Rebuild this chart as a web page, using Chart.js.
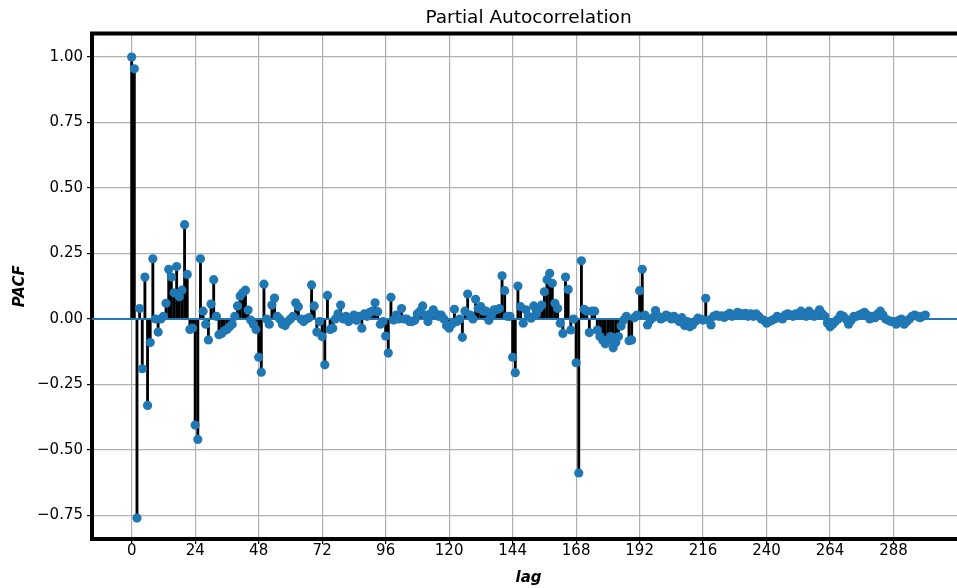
<!DOCTYPE html>
<html>
<head>
<meta charset="utf-8">
<title>Partial Autocorrelation</title>
<script src="https://cdn.jsdelivr.net/npm/chart.js@4"></script>
<style>
  html, body { margin: 0; padding: 0; background: #fff; }
  #wrap { width: 957px; height: 588px; overflow: hidden; }
</style>
</head>
<body>
<div id="wrap"><canvas id="pacfChart" width="975" height="588"></canvas></div>
<script>
// PACF values, one per lag (12 lags per row)
const pacfLags0to99 = [
  1.0, 0.955, -0.76, 0.04, -0.19, 0.16, -0.33, -0.09, 0.23, 0.0, -0.05, 0.0,
  0.01, 0.06, 0.19, 0.16, 0.10, 0.20, 0.085, 0.11, 0.36, 0.17, -0.04, -0.035,
  -0.405, -0.46, 0.23, 0.03, -0.02, -0.08, 0.057, 0.15, 0.01, -0.06, -0.055, -0.045,
  -0.04, -0.03, -0.02, 0.01, 0.05, 0.088, 0.10, 0.11, 0.034, -0.004, -0.02, -0.04,
  -0.146, -0.203, 0.133, 0.0, -0.02, 0.053, 0.08, 0.01, 0.0, -0.02, -0.025, -0.01,
  0.0, 0.01, 0.062, 0.047, 0.0, -0.01, 0.0, 0.005, 0.13, 0.05, -0.05, -0.01,
  -0.067, -0.175, 0.09, -0.04, -0.035, 0.0, 0.02, 0.053, 0.0, 0.01, -0.01, 0.0,
  0.015, -0.005, 0.01, -0.035, 0.02, 0.01, 0.025, 0.03, 0.062, 0.028, -0.02, -0.01,
  -0.065, -0.13, 0.083, -0.004
];
const pacfLags100to199 = [
  0.015, 0.0, 0.04, 0.0, 0.0, -0.01, -0.01, -0.005,
  0.02, 0.03, 0.05, 0.015, -0.01, 0.02, 0.035, 0.02, 0.01, 0.015, 0.0, -0.025,
  -0.035, -0.02, 0.037, -0.01, 0.0, -0.07, 0.03, 0.095, 0.015, 0.0, 0.075, 0.04,
  0.047, 0.03, 0.03, -0.005, 0.015, 0.035, 0.035, 0.04, 0.165, 0.108, 0.01, 0.01,
  -0.146, -0.205, 0.126, 0.047, -0.016, 0.035, 0.01, 0.003, 0.05, 0.02, 0.04, 0.053,
  0.104, 0.15, 0.174, 0.136, 0.06, 0.04, -0.016, -0.055, 0.16, 0.113, -0.042, 0.0,
  -0.167, -0.588, 0.222, 0.037, 0.03, -0.052, 0.03, 0.03, -0.042, -0.067, -0.08, -0.095,
  -0.08, -0.067, -0.11, -0.09, -0.067, -0.027, -0.004, 0.01, -0.083, -0.08, 0.005, 0.015,
  0.108, 0.19, 0.015, -0.023, -0.004, 0.005, 0.032, 0.01
];
const pacfLags200to300 = [
  0.0, 0.005, 0.015, 0.01,
  0.0, 0.01, 0.0, -0.01, 0.005, -0.025, -0.01, -0.03, -0.023, -0.01, 0.003, 0.0,
  -0.004, 0.079, -0.004, -0.023, 0.01, 0.015, 0.01, 0.012, 0.006, 0.015, 0.022, 0.01,
  0.015, 0.025, 0.022, 0.015, 0.022, 0.01, 0.02, 0.01, 0.02, 0.01, 0.0, -0.005,
  -0.016, -0.01, -0.005, 0.0, 0.01, 0.005, 0.0, 0.015, 0.02, 0.015, 0.01, 0.02,
  0.015, 0.03, 0.02, 0.01, 0.03, 0.02, 0.01, 0.02, 0.035, 0.02, 0.01, -0.015,
  -0.03, -0.02, -0.01, 0.0, 0.015, 0.01, 0.0, -0.02, -0.005, 0.01, 0.01, 0.015,
  0.02, 0.025, 0.015, 0.0, 0.01, 0.005, 0.02, 0.03, 0.015, 0.0, -0.005, -0.01,
  -0.01, -0.02, -0.005, 0.0, -0.02, -0.01, 0.0, 0.01, 0.015, 0.01, 0.005, 0.01,
  0.015
];

const xTickValues = [0, 24, 48, 72, 96, 120, 144, 168, 192, 216, 240, 264, 288];
const yTickValues = [-0.75, -0.5, -0.25, 0.0, 0.25, 0.5, 0.75, 1.0];

const X_MIN = -15, X_MAX = 315;
const Y_MIN = -0.84, Y_MAX = 1.09;
const BLUE = '#1f77b4';
const FONT = "'DejaVu Sans', sans-serif";

const pacf = pacfLags0to99.concat(pacfLags100to199, pacfLags200to300);
const points = pacf.map((v, lag) => ({ x: lag, y: v }));

// top spine (bottom/left come from the axis borders, right one is off-canvas)
const topSpine = {
  id: 'topSpine',
  afterDatasetsDraw(chart) {
    const { ctx, chartArea } = chart;
    ctx.save();
    ctx.strokeStyle = '#000';
    ctx.lineWidth = 4;
    ctx.beginPath();
    ctx.moveTo(chartArea.left - 2, chartArea.top);
    ctx.lineTo(chartArea.right + 2, chartArea.top);
    ctx.stroke();
    ctx.restore();
  }
};

const ctx = document.getElementById('pacfChart').getContext('2d');
new Chart(ctx, {
  type: 'bar',
  data: {
    datasets: [
      {
        type: 'scatter',
        data: points,
        backgroundColor: BLUE,
        borderColor: BLUE,
        borderWidth: 0,
        pointRadius: 4.6,
        pointHoverRadius: 4.6,
        order: 0
      },
      {
        type: 'line',
        data: [{ x: X_MIN, y: 0 }, { x: X_MAX, y: 0 }],
        borderColor: BLUE,
        borderWidth: 1.8,
        pointRadius: 0,
        order: 1
      },
      {
        type: 'bar',
        data: points,
        backgroundColor: '#000',
        borderWidth: 0,
        barThickness: 2.2,
        order: 2
      }
    ]
  },
  options: {
    responsive: false,
    devicePixelRatio: 1,
    animation: false,
    layout: { padding: { left: 0, right: 10, top: 0, bottom: 0 } },
    plugins: {
      legend: { display: false },
      tooltip: { enabled: false },
      title: {
        display: true,
        text: 'Partial Autocorrelation',
        color: '#000',
        fullSize: false,
        font: { family: FONT, size: 18.5, weight: 'normal' },
        padding: { top: 7, bottom: 4.3 }
      }
    },
    scales: {
      x: {
        type: 'linear',
        min: X_MIN,
        max: X_MAX,
        offset: false,
        afterBuildTicks: s => { s.ticks = xTickValues.map(v => ({ value: v })); },
        afterFit: s => { s.height = 49; },
        ticks: {
          color: '#000',
          font: { family: FONT, size: 15, lineHeight: 1.0 },
          padding: 0,
          maxRotation: 0,
          autoSkip: false,
          callback: v => String(v)
        },
        grid: { offset: false, color: '#b0b0b0', lineWidth: 1.2, tickColor: '#000', tickLength: 5, tickWidth: 1.2 },
        border: { display: true, color: '#000', width: 4 },
        title: {
          display: true,
          text: 'lag',
          color: '#000',
          font: { family: FONT, size: 15, weight: 'bold', style: 'italic' },
          padding: { top: 0, bottom: 1 }
        }
      },
      y: {
        type: 'linear',
        min: Y_MIN,
        max: Y_MAX,
        afterBuildTicks: s => { s.ticks = yTickValues.map(v => ({ value: v })); },
        afterFit: s => { s.width = 92; },
        ticks: {
          color: '#000',
          font: { family: FONT, size: 15 },
          padding: 4,
          callback: v => v.toFixed(2).replace('-', '\u2212')
        },
        grid: { color: '#b0b0b0', lineWidth: 1.2, tickColor: '#000', tickLength: 5, tickWidth: 1.2 },
        border: { display: true, color: '#000', width: 4 },
        title: {
          display: true,
          text: 'PACF',
          color: '#000',
          font: { family: FONT, size: 15, weight: 'bold', style: 'italic' },
          padding: { top: 11, bottom: 0 }
        }
      }
    }
  },
  plugins: [topSpine]
});
</script>
</body>
</html>
